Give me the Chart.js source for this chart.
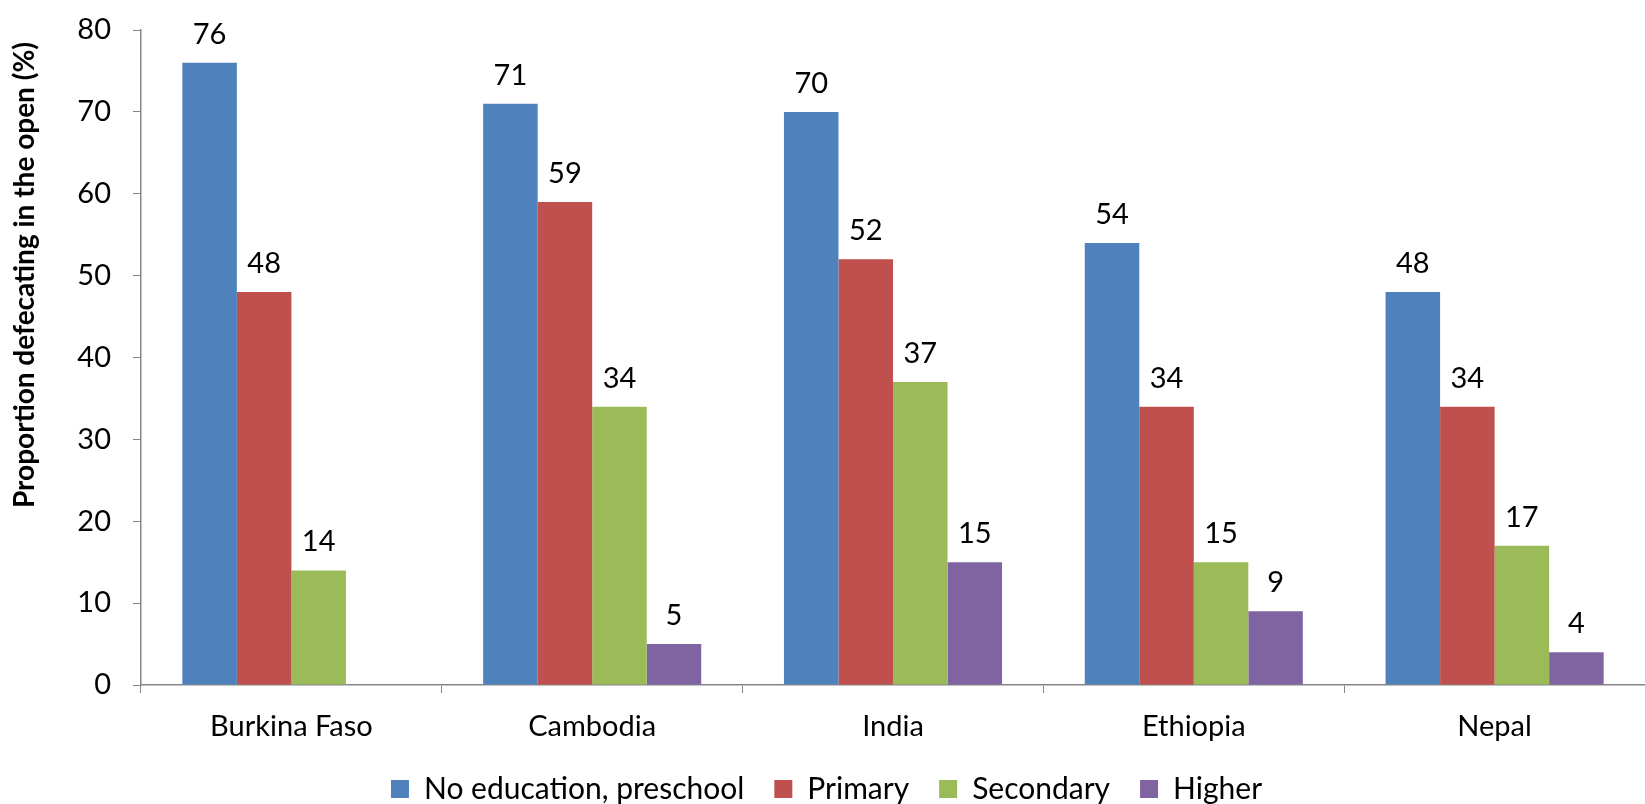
<!DOCTYPE html>
<html>
<head>
<meta charset="utf-8">
<title>Open defecation by education level</title>
<script src="https://cdn.jsdelivr.net/npm/chart.js@4/dist/chart.umd.min.js"></script>
<style>
  html, body { margin: 0; padding: 0; background: #fff; }
  #wrap { width: 1645px; height: 804px; position: relative; }
</style>
</head>
<body>
<div id="wrap"><canvas id="chart"></canvas></div>
<script>
const countries = ["Burkina Faso", "Cambodia", "India", "Ethiopia", "Nepal"];
const noEducation = [76, 71, 70, 54, 48];
const primary = [48, 59, 52, 34, 34];
const secondary = [14, 34, 37, 15, 17];
const higher = [null, 5, 15, 9, 4];
const yTicks = [0, 10, 20, 30, 40, 50, 60, 70, 80];
const yTitle = "Proportion defecating in the open (%)";

const axisGrey = "#868686";
Chart.defaults.font.family = "Lato, 'Open Sans', sans-serif";
Chart.defaults.color = "#000";

// value labels above each bar
const barLabels = {
  id: "barLabels",
  afterDatasetsDraw(chart) {
    const { ctx } = chart;
    ctx.save();
    ctx.font = "29px Lato";
    ctx.fillStyle = "#000";
    ctx.textAlign = "center";
    ctx.textBaseline = "alphabetic";
    chart.data.datasets.forEach((ds, i) => {
      chart.getDatasetMeta(i).data.forEach((bar, j) => {
        const v = ds.data[j];
        if (v === null || v === undefined) return;
        ctx.fillText(String(v), bar.x, bar.y - 19);
      });
    });
    ctx.restore();
  },
};

// vertical axis title, sitting a little above the middle of the axis
const axisTitle = {
  id: "axisTitle",
  afterDraw(chart) {
    const { ctx } = chart;
    ctx.save();
    ctx.translate(25, 275);
    ctx.rotate(-Math.PI / 2);
    ctx.font = "bold 28px Lato";
    ctx.fillStyle = "#000";
    ctx.textAlign = "center";
    ctx.textBaseline = "middle";
    ctx.fillText(yTitle, 0, 0);
    ctx.restore();
  },
};

new Chart(document.getElementById("chart"), {
  type: "bar",
  data: {
    labels: countries,
    datasets: [
      { label: "No education, preschool", data: noEducation, backgroundColor: "#4F81BD" },
      { label: "Primary", data: primary, backgroundColor: "#C0504D" },
      { label: "Secondary", data: secondary, backgroundColor: "#9BBB59" },
      { label: "Higher", data: higher, backgroundColor: "#8064A2" },
    ],
  },
  options: {
    responsive: true,
    maintainAspectRatio: false,
    animation: false,
    barPercentage: 1,
    categoryPercentage: 0.725,
    layout: { padding: { top: 30, right: -8, bottom: -10, left: 0 } },
    plugins: {
      legend: {
        position: "bottom",
        labels: {
          font: { size: 30 },
          boxWidth: 18,
          boxHeight: 18,
          padding: 30,
        },
      },
      tooltip: { enabled: false },
    },
    scales: {
      x: {
        afterFit: (scale) => {
          scale.height = 59;
        },
        grid: {
          display: true,
          drawOnChartArea: false,
          offset: true,
          color: axisGrey,
          tickLength: 8,
        },
        border: { color: axisGrey, width: 1.5 },
        ticks: { font: { size: 29 }, padding: 16, color: "#000" },
      },
      y: {
        min: 0,
        max: 80,
        afterBuildTicks: (scale) => {
          scale.ticks = yTicks.map((v) => ({ value: v }));
        },
        afterFit: (scale) => {
          scale.width = 141;
          scale.paddingTop = 0;
          scale.paddingBottom = 0;
        },
        grid: {
          display: true,
          drawOnChartArea: false,
          color: axisGrey,
          tickLength: 8,
        },
        border: { color: axisGrey, width: 1.5 },
        ticks: { font: { size: 29 }, padding: 22, color: "#000" },
      },
    },
  },
  plugins: [barLabels, axisTitle],
});
</script>
</body>
</html>
